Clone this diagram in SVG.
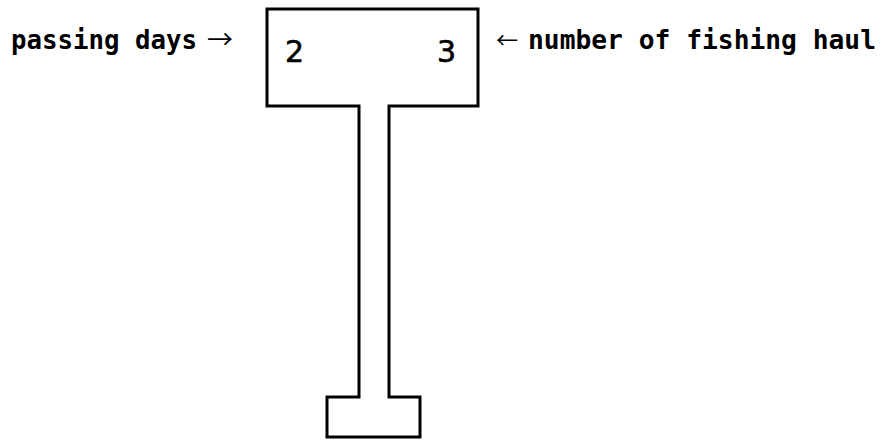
<svg xmlns="http://www.w3.org/2000/svg" width="892" height="447" viewBox="0 0 892 447">
<style>
.lbl{font-family:"DejaVu Sans Mono","Liberation Mono",monospace;font-weight:bold;font-size:27px;fill:#000}
.arr{font-family:"Noto Sans CJK JP","DejaVu Sans",sans-serif;font-size:26px;fill:#000}
.num{font-family:"DejaVu Sans","Liberation Sans",sans-serif;font-size:30px;fill:#000;stroke:#000;stroke-width:0.6}
.outline{fill:#fff;stroke:#000;stroke-width:3;stroke-linejoin:miter}
</style>
<rect width="892" height="447" fill="#fff"/>
<g id="sign">
<path class="outline" d="M267,9 H478 V106 H389 V397 H420 V437 H327 V397 H359 V106 H267 Z"/>
</g>
<g id="values">
<text class="num" x="285" y="62">2</text>
<text class="num" x="437" y="62">3</text>
</g>
<g id="labels">
<text class="lbl" x="11" y="49" textLength="186" lengthAdjust="spacingAndGlyphs">passing days</text>
<text class="arr" x="207" y="49">→</text>
<text class="arr" x="496" y="48" style="font-size:22px">←</text>
<text class="lbl" x="528" y="49" textLength="348" lengthAdjust="spacingAndGlyphs">number of fishing haul</text>
</g>
</svg>
